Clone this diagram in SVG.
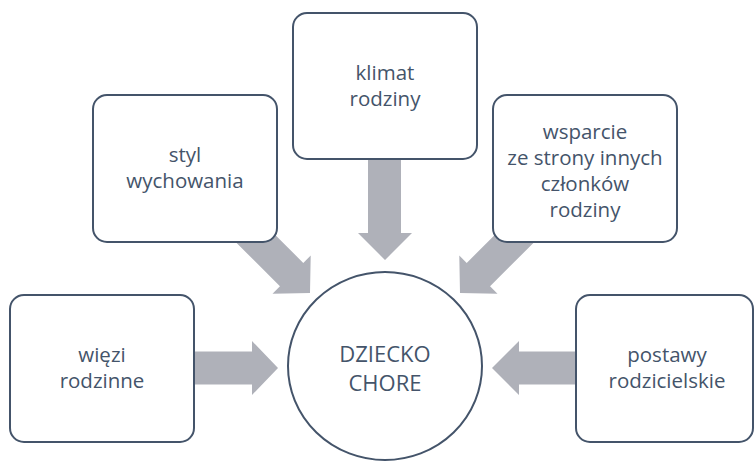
<svg xmlns="http://www.w3.org/2000/svg" width="754" height="461" viewBox="0 0 754 461">
<style>
.box{fill:#ffffff;stroke:#44546A;stroke-width:2}
.arr{fill:#AFB1B9}
.t{font-family:"Open Sans","Noto Sans","DejaVu Sans",sans-serif;font-size:20.5px;fill:#44546A;text-anchor:middle}
.tc{font-size:22px}
</style>
<defs>
<path id="diag" d="M0,0 L-26,27 L-26,16.5 L-110,16.5 L-110,-16.5 L-26,-16.5 L-26,-27 Z"/>
</defs>
<rect width="754" height="461" fill="#ffffff"/>
<g id="connectors">
<path class="arr" d="M185,351.5 L252,351.5 L252,341 L278,368 L252,395 L252,384.5 L185,384.5 Z"/>
<path class="arr" d="M585,351.5 L519,351.5 L519,341 L492,368 L519,395 L519,384.5 L585,384.5 Z"/>
<path class="arr" d="M368,150 L368,233 L358,233 L385,260 L412,233 L401,233 L401,150 Z"/>
<use class="arr" href="#diag" transform="translate(310,293) rotate(45)"/>
<use class="arr" href="#diag" transform="translate(460,293) rotate(135)"/>
</g>
<g id="node-klimat">
<rect class="box" x="293" y="13" width="184" height="146" rx="14"/>
<text class="t" x="385" y="80">klimat</text>
<text class="t" x="385" y="106">rodziny</text>
</g>
<g id="node-styl">
<rect class="box" x="93" y="95" width="184" height="147" rx="14"/>
<text class="t" x="185" y="162">styl</text>
<text class="t" x="185" y="188">wychowania</text>
</g>
<g id="node-wsparcie">
<rect class="box" x="493" y="95" width="184" height="147" rx="14"/>
<text class="t" x="585" y="139">wsparcie</text>
<text class="t" x="585" y="165">ze strony innych</text>
<text class="t" x="585" y="191">członków</text>
<text class="t" x="585" y="217">rodziny</text>
</g>
<g id="node-wiezi">
<rect class="box" x="10" y="295" width="184" height="147" rx="14"/>
<text class="t" x="102" y="362">więzi</text>
<text class="t" x="102" y="388">rodzinne</text>
</g>
<g id="node-postawy">
<rect class="box" x="576" y="295" width="177" height="147" rx="14"/>
<text class="t" x="667" y="362">postawy</text>
<text class="t" x="667" y="388">rodzicielskie</text>
</g>
<g id="node-dziecko">
<ellipse class="box" cx="385" cy="366" rx="97" ry="94"/>
<text class="t tc" x="385" y="362">DZIECKO</text>
<text class="t tc" x="385" y="391">CHORE</text>
</g>
</svg>
